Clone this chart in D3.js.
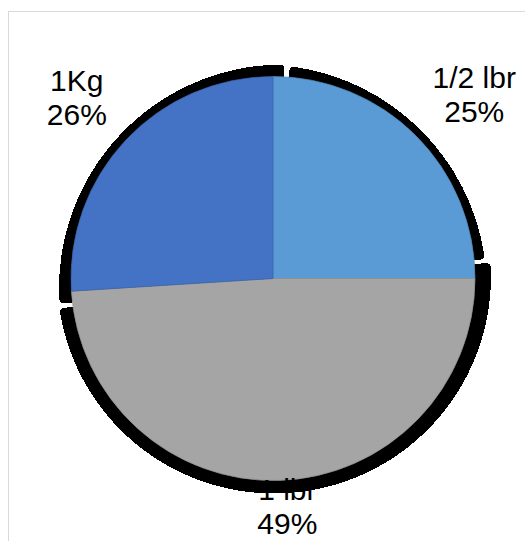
<!DOCTYPE html>
<html>
<head>
<meta charset="utf-8">
<script src="https://cdn.jsdelivr.net/npm/d3@7"></script>
<style>
  html, body { margin: 0; padding: 0; background: #fff; }
  svg { display: block; }
</style>
</head>
<body>
<svg id="chart" width="525" height="541"></svg>
<script>
// Package sizes and their share of the total
const categories = ["1/2 lbr", "1 lbr", "1Kg"];
const shares = [25, 49, 26];
const sliceColors = ["#5B9BD5", "#A5A5A5", "#4472C4"];

// Drop shadow behind each slice: centre shift, radius and angular trims (degrees)
const shadowShift = [[-11, 11], [1, -2], [10, 10]];
const shadowRadius = [225, 217, 224];
const shadowTrim = [[7.1, -7.8], [-3.6, -4.9], [-0.2, 0.3]];

// Label placement: distance from the pie centre and a small angular turn (degrees)
const labelDistance = [273, 228, 267];
const labelTurn = [2.5, -1.8, -0.5];

const cx = 273, cy = 278.5, R = 202;
const rad = Math.PI / 180;
const fontSize = 30, lineHeight = 34;

const svg = d3.select("#chart");

// chart area frame
svg.append("rect")
  .attr("x", 8.5).attr("y", 11.5)
  .attr("width", 560).attr("height", 580)
  .attr("fill", "#fff")
  .attr("stroke", "#d9d9d9")
  .attr("stroke-width", 1);

const data = categories.map((c, i) => ({ category: c, value: shares[i], color: sliceColors[i] }));
const total = d3.sum(shares);
const pie = d3.pie().sort(null).value(d => d.value);
const arcs = pie(data);

const g = svg.append("g").attr("transform", `translate(${cx},${cy})`);

// shadows
g.append("g").selectAll("path").data(arcs).join("path")
  .attr("transform", d => `translate(${shadowShift[d.index][0]},${shadowShift[d.index][1]})`)
  .attr("d", d => d3.arc()
      .innerRadius(0)
      .outerRadius(shadowRadius[d.index])
      .cornerRadius(4)({
        startAngle: d.startAngle + shadowTrim[d.index][0] * rad,
        endAngle: d.endAngle + shadowTrim[d.index][1] * rad
      }))
  .attr("fill", "#000")
  .attr("shape-rendering", "crispEdges");

// slices
const arc = d3.arc().innerRadius(0).outerRadius(R);
g.append("g").selectAll("path").data(arcs).join("path")
  .attr("d", arc)
  .attr("fill", d => d.data.color)
  .attr("stroke", d => d3.color(d.data.color).darker(0.35))
  .attr("stroke-width", 0.75);

// category + percentage labels
const labels = g.append("g")
  .attr("font-family", "'Liberation Sans', Arial, sans-serif")
  .attr("font-size", fontSize)
  .attr("fill", "#000")
  .attr("text-anchor", "middle");

arcs.forEach(d => {
  const a = (d.startAngle + d.endAngle) / 2 + labelTurn[d.index] * rad;
  const x = Math.sin(a) * labelDistance[d.index];
  const y = -Math.cos(a) * labelDistance[d.index];
  const pct = Math.round(d.data.value / total * 100) + "%";
  const t = labels.append("text");
  t.append("tspan").attr("x", x).attr("y", y - 6).text(d.data.category);
  t.append("tspan").attr("x", x).attr("y", y - 6 + lineHeight).text(pct);
});
</script>
</body>
</html>
